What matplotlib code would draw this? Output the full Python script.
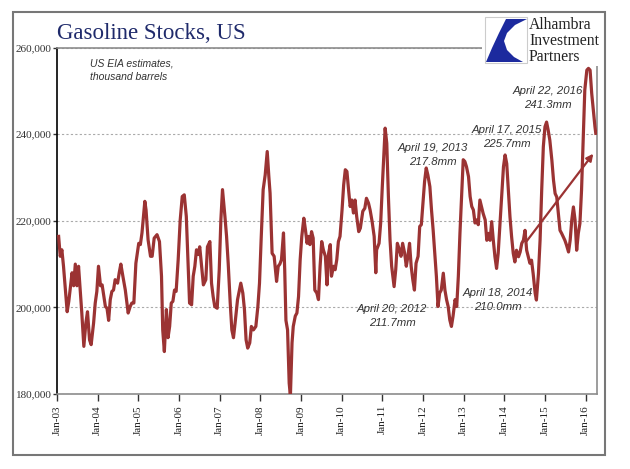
import numpy as np
import matplotlib
matplotlib.use("Agg")
from matplotlib import pyplot as plt
from matplotlib.patches import Rectangle, Polygon
from matplotlib.ticker import FuncFormatter

# weekly gasoline stocks, date as decimal year, level in million barrels
weeks = [2003.04, 2003.08, 2003.12, 2003.16, 2003.25, 2003.29, 2003.37, 2003.41, 2003.45, 2003.49,
         2003.53, 2003.57, 2003.61, 2003.66, 2003.71, 2003.75, 2003.80, 2003.84, 2003.90, 2003.94,
         2003.98, 2004.02, 2004.07, 2004.11, 2004.19, 2004.23, 2004.27, 2004.31, 2004.35, 2004.39,
         2004.43, 2004.49, 2004.53, 2004.57, 2004.62, 2004.68, 2004.75, 2004.80, 2004.84, 2004.89,
         2004.94, 2005.01, 2005.05, 2005.09, 2005.16, 2005.19, 2005.24, 2005.30, 2005.34, 2005.39,
         2005.46, 2005.52, 2005.57, 2005.60, 2005.64, 2005.69, 2005.73, 2005.77, 2005.81, 2005.85,
         2005.89, 2005.93, 2005.98, 2006.03, 2006.08, 2006.13, 2006.18, 2006.22, 2006.26, 2006.31,
         2006.35, 2006.39, 2006.43, 2006.47, 2006.51, 2006.55, 2006.60, 2006.66, 2006.70, 2006.76,
         2006.80, 2006.84, 2006.88, 2006.94, 2006.99, 2007.03, 2007.07, 2007.13, 2007.17, 2007.21,
         2007.26, 2007.30, 2007.34, 2007.38, 2007.44, 2007.48, 2007.52, 2007.57, 2007.61, 2007.65,
         2007.69, 2007.74, 2007.78, 2007.83, 2007.89, 2007.94, 2007.98, 2008.02, 2008.07, 2008.12,
         2008.17, 2008.21, 2008.24, 2008.29, 2008.34, 2008.40, 2008.44, 2008.48, 2008.52, 2008.57,
         2008.60, 2008.63, 2008.67, 2008.71, 2008.74, 2008.78, 2008.81, 2008.86, 2008.90, 2008.94,
         2008.98, 2009.02, 2009.07, 2009.11, 2009.15, 2009.18, 2009.22, 2009.26, 2009.30, 2009.34,
         2009.39, 2009.43, 2009.47, 2009.51, 2009.55, 2009.60, 2009.64, 2009.68, 2009.72, 2009.75,
         2009.80, 2009.84, 2009.88, 2009.92, 2009.96, 2010.01, 2010.05, 2010.09, 2010.13, 2010.17,
         2010.21, 2010.25, 2010.29, 2010.33, 2010.37, 2010.42, 2010.46, 2010.52, 2010.57, 2010.61,
         2010.66, 2010.70, 2010.75, 2010.80, 2010.84, 2010.86, 2010.92, 2010.96, 2011.00, 2011.04,
         2011.07, 2011.11, 2011.15, 2011.19, 2011.23, 2011.29, 2011.33, 2011.37, 2011.42, 2011.46,
         2011.50, 2011.55, 2011.59, 2011.63, 2011.67, 2011.71, 2011.75, 2011.79, 2011.83, 2011.88,
         2011.92, 2011.96, 2012.00, 2012.04, 2012.08, 2012.12, 2012.17, 2012.21, 2012.25, 2012.29,
         2012.33, 2012.37, 2012.41, 2012.45, 2012.50, 2012.54, 2012.58, 2012.62, 2012.66, 2012.70,
         2012.74, 2012.79, 2012.83, 2012.87, 2012.91, 2012.95, 2012.99, 2013.03, 2013.07, 2013.12,
         2013.16, 2013.20, 2013.24, 2013.28, 2013.32, 2013.36, 2013.40, 2013.44, 2013.48, 2013.53,
         2013.57, 2013.61, 2013.65, 2013.69, 2013.73, 2013.77, 2013.81, 2013.85, 2013.89, 2013.94,
         2013.98, 2014.02, 2014.06, 2014.10, 2014.14, 2014.18, 2014.22, 2014.26, 2014.30, 2014.35,
         2014.39, 2014.43, 2014.47, 2014.51, 2014.55, 2014.59, 2014.63, 2014.67, 2014.71, 2014.76,
         2014.79, 2014.84, 2014.88, 2014.92, 2014.96, 2015.00, 2015.04, 2015.08, 2015.12, 2015.17,
         2015.21, 2015.25, 2015.29, 2015.33, 2015.37, 2015.41, 2015.45, 2015.49, 2015.53, 2015.58,
         2015.62, 2015.66, 2015.70, 2015.74, 2015.78, 2015.82, 2015.86, 2015.90, 2015.94, 2015.98,
         2016.03, 2016.07, 2016.11, 2016.15, 2016.19, 2016.23, 2016.25]
stocks_mb = [216.4, 211.8, 213.3, 209.5, 199.0, 201.4, 208.0, 205.0, 210.0, 205.0,
             209.5, 204.0, 198.7, 191.0, 196.4, 199.0, 192.5, 191.4, 196.4, 201.0,
             203.7, 209.5, 205.0, 205.2, 200.2, 199.8, 197.0, 201.8, 203.7, 204.0,
             206.4, 205.6, 208.0, 210.0, 207.2, 204.0, 198.7, 200.2, 201.0, 201.0,
             210.2, 214.8, 214.5, 217.2, 224.5, 222.5, 215.6, 211.8, 211.8, 216.0,
             216.8, 215.2, 207.2, 194.8, 189.8, 199.5, 193.0, 195.6, 201.0, 201.4,
             204.0, 203.7, 211.0, 220.2, 225.6, 226.0, 221.0, 211.0, 201.0, 200.6,
             207.2, 209.5, 213.3, 212.2, 214.0, 210.2, 205.2, 206.4, 214.0, 215.2,
             205.6, 202.5, 200.2, 199.8, 208.7, 220.2, 227.2, 221.0, 216.4, 210.2,
             201.0, 194.8, 193.0, 196.4, 201.8, 203.7, 205.6, 203.3, 199.5, 192.5,
             190.6, 191.8, 195.6, 194.8, 195.6, 200.2, 205.6, 215.6, 227.2, 230.6,
             236.0, 230.2, 226.4, 212.5, 211.8, 206.0, 209.5, 210.0, 211.0, 217.2,
             208.7, 197.0, 194.8, 182.5, 179.5, 191.8, 195.6, 198.0, 198.7, 202.5,
             211.0, 216.4, 220.6, 217.9, 214.8, 216.4, 214.5, 217.5, 216.0, 204.0,
             203.3, 201.8, 209.5, 215.2, 213.3, 211.8, 205.2, 212.5, 214.5, 207.2,
             209.5, 208.7, 211.0, 215.2, 216.4, 222.5, 228.3, 231.8, 231.4, 227.2,
             223.3, 224.8, 221.8, 224.8, 221.0, 217.5, 218.3, 222.2, 222.9, 225.2,
             224.1, 222.5, 219.8, 216.4, 208.0, 213.3, 214.8, 219.5, 227.9, 235.6,
             241.4, 237.9, 225.6, 215.6, 209.5, 204.8, 208.7, 214.8, 213.3, 211.8,
             214.8, 212.5, 209.5, 211.8, 214.8, 209.5, 206.4, 204.0, 210.2, 211.8,
             218.7, 219.1, 224.1, 229.1, 232.2, 230.6, 227.9, 222.5, 217.9, 212.5,
             207.2, 200.2, 203.3, 204.0, 207.9, 204.0, 201.8, 200.2, 197.1, 195.6,
             198.0, 201.8, 200.2, 207.2, 217.2, 225.6, 234.1, 233.7, 232.5, 230.2,
             225.6, 223.3, 222.5, 219.5, 220.2, 219.1, 224.8, 223.2, 221.7, 220.2,
             215.5, 217.1, 215.5, 219.8, 215.5, 211.7, 209.0, 212.5, 218.6, 226.3,
             232.5, 235.2, 233.2, 227.1, 220.9, 216.3, 212.5, 210.5, 213.2, 211.7,
             212.8, 214.8, 215.5, 217.8, 213.2, 211.7, 210.2, 210.9, 207.8, 203.2,
             201.7, 207.8, 215.5, 227.1, 237.1, 241.7, 242.8, 240.9, 238.6, 234.0,
             229.4, 226.3, 225.5, 221.7, 217.8, 217.1, 216.3, 215.5, 214.4, 212.8,
             215.5, 220.2, 223.2, 220.2, 213.2, 217.1, 219.4, 227.1, 238.6, 250.2,
             254.8, 255.2, 254.8, 249.4, 245.5, 241.7, 240.2]

year_ticks = list(range(2003, 2017))
year_labels = ["Jan-%02d" % (y % 100) for y in year_ticks]
y_ticks = [180000, 200000, 220000, 240000, 260000]

# April annotations: (label, x, y) in data units
notes = [("April 19, 2013\n217.8mm", 2012.25, 235.2),
         ("April 17, 2015\n225.7mm", 2014.07, 239.4),
         ("April 22, 2016\n241.3mm", 2015.08, 248.4),
         ("April 20, 2012\n211.7mm", 2011.24, 198.0),
         ("April 18, 2014\n210.0mm", 2013.85, 201.7)]
trend_start = (2014.51, 214.8)
trend_end = (2016.23, 236.0)

RED = "#9b3333"
W, H = 630, 469

def px(x, y):
    # pixel (from top-left) -> figure fraction
    return (x / W, 1 - y / H)

fig = plt.figure(figsize=(6.3, 4.69), dpi=100)
ax = fig.add_axes([57 / W, 75 / H, 540 / W, 346.4 / H])

stocks_kb = np.array(stocks_mb) * 1000
ax.plot(weeks, stocks_kb, color=RED, lw=2.3, solid_joinstyle="round", zorder=3)

ax.set_xlim(2003.0, 2016.28)
ax.set_ylim(180000, 260000)
ax.set_xticks(year_ticks)
ax.set_xticklabels(year_labels, rotation=90, family="Liberation Serif", fontsize=8, color="#222222")
ax.set_yticks(y_ticks)
ax.yaxis.set_major_formatter(FuncFormatter(lambda v, p: "{:,}".format(int(v))))
for lab in ax.get_yticklabels():
    lab.set_family("Liberation Serif")
    lab.set_fontsize(8)
    lab.set_color("#333333")
ax.tick_params(axis="x", direction="out", length=5, width=1, color="#333333", pad=3)
ax.tick_params(axis="y", direction="out", length=3, width=1, color="#333333", pad=1)

ax.yaxis.grid(True, linestyle=(0, (2, 2)), color="#aaaaaa", lw=0.8)
ax.set_axisbelow(True)
ax.spines["left"].set_color("black")
ax.spines["left"].set_linewidth(1.2)
for s in ["bottom", "top", "right"]:
    ax.spines[s].set_color("#8c8c8c")
    ax.spines[s].set_linewidth(1.2)

# text notes
ax.text(2003.82, 254.8 * 1000, "US EIA estimates,\nthousand barrels", style="italic",
        family=["Liberation Sans Narrow", "Liberation Sans"], fontsize=7.5, color="#333333",
        ha="left", va="center", linespacing=1.5)
for lab, x, y in notes:
    ax.text(x, y * 1000, lab, style="italic", family=["Liberation Sans Narrow", "Liberation Sans"],
            fontsize=8.2, color="#333333", ha="center", va="center", linespacing=1.5, zorder=4)

ax.annotate("", xy=(trend_end[0], trend_end[1] * 1000),
            xytext=(trend_start[0], trend_start[1] * 1000),
            arrowprops=dict(arrowstyle="-|>", color=RED, lw=1.6, mutation_scale=10), zorder=4)

# title
fig.text(57 / W, 1 - 39 / H, "Gasoline Stocks, US", family="Liberation Serif", fontsize=16.5,
         color="#1f2a6b", ha="left", va="baseline")

# logo block, covers top right corner of the plot frame
fig.patches.append(Rectangle(px(482, 66), 121 / W, 53 / H, transform=fig.transFigure,
                             facecolor="white", edgecolor="none", zorder=5))
fig.patches.append(Rectangle(px(485, 63), 42 / W, 46 / H, transform=fig.transFigure,
                             facecolor="white", edgecolor="#cccccc", lw=0.8, zorder=6))
swoosh = [(506, 19), (527, 19), (515, 25), (507, 33), (504, 41), (507, 50), (514, 57),
          (523, 62), (486, 62), (492, 48), (499, 33)]
fig.patches.append(Polygon([px(x, y) for x, y in swoosh], closed=True, transform=fig.transFigure,
                           facecolor="#1c2a9e", edgecolor="none", zorder=7))
fig.text(529 / W, 1 - 41 / H, "Alhambra\nInvestment\nPartners", family="Liberation Serif",
         fontsize=11.3, color="#222222", ha="left", va="center", linespacing=1.0, zorder=8)

# outer frame
fig.patches.append(Rectangle(px(13, 455), 592 / W, 443 / H, transform=fig.transFigure,
                             fill=False, edgecolor="#777777", lw=1.5, zorder=9))

fig.savefig("out.png", dpi=100)
